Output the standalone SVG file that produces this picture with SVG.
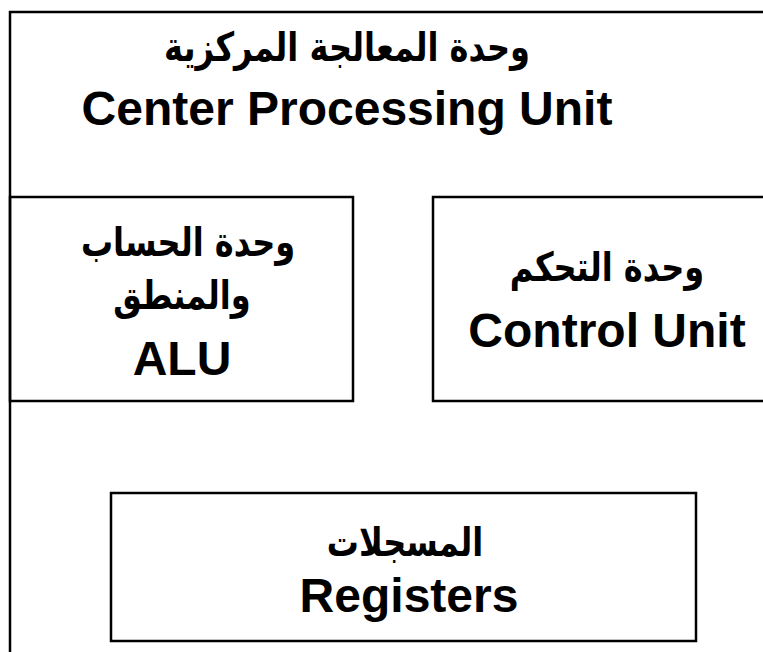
<svg xmlns="http://www.w3.org/2000/svg" width="763" height="652" viewBox="0 0 763 652">
<style>
.box{fill:none;stroke:#000;stroke-width:2.5}
.en{font-family:"Liberation Sans",Arial,sans-serif;font-weight:bold;font-size:48px;fill:#000;text-anchor:middle}
.ar{font-family:"DejaVu Sans","Noto Sans",sans-serif;font-weight:bold;font-size:40px;fill:#000;text-anchor:middle}
</style>
<rect width="763" height="652" fill="#fff"/>
<g id="cpu">
<rect class="box" x="10" y="12" width="800" height="700"/>
<text class="ar" transform="translate(347,61) scale(0.8,1)" direction="rtl">وحدة المعالجة المركزية</text>
<text class="en" x="347" y="125">Center Processing Unit</text>
</g>
<g id="alu">
<rect class="box" x="10" y="197" width="343" height="204"/>
<text class="ar" transform="translate(188,256) scale(0.8,1)" direction="rtl">وحدة الحساب</text>
<text class="ar" transform="translate(182,309) scale(0.8,1)" direction="rtl">والمنطق</text>
<text class="en" x="182" y="375">ALU</text>
</g>
<g id="control">
<rect class="box" x="433" y="197" width="400" height="204"/>
<text class="ar" transform="translate(607,281) scale(0.8,1)" direction="rtl">وحدة التحكم</text>
<text class="en" x="607" y="347">Control Unit</text>
</g>
<g id="registers">
<rect class="box" x="111" y="493" width="585" height="148"/>
<text class="ar" transform="translate(405,556) scale(0.8,1)" direction="rtl">المسجلات</text>
<text class="en" x="409" y="612">Registers</text>
</g>
<g id="connectors"></g>
</svg>
